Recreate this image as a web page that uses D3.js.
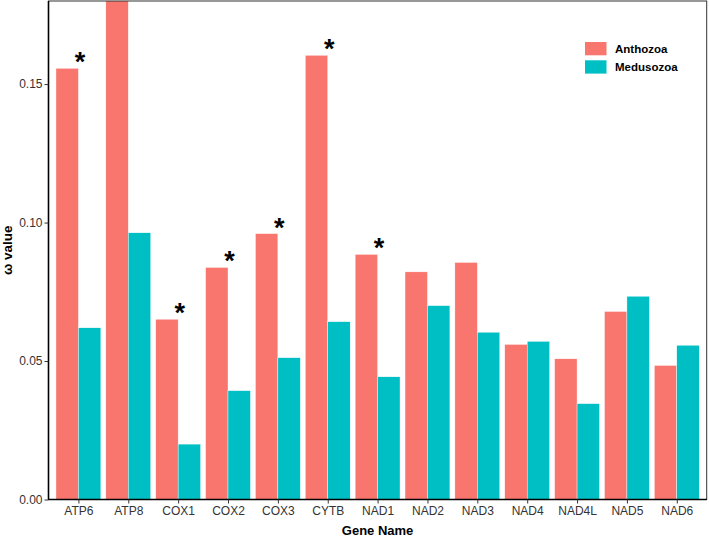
<!DOCTYPE html>
<html>
<head>
<meta charset="utf-8">
<script src="https://cdn.jsdelivr.net/npm/d3@7"></script>
<style>
body{margin:0;background:#fff;}
text{font-family:"Liberation Sans", Arial, sans-serif;}
</style>
</head>
<body>
<svg id="chart" width="709" height="540"></svg>
<script>
const genes = ["ATP6","ATP8","COX1","COX2","COX3","CYTB","NAD1","NAD2","NAD3","NAD4","NAD4L","NAD5","NAD6"];
const groups = ["Anthozoa","Medusozoa"];
const anthozoa  = [0.1557,0.190,0.0651,0.0838,0.0960,0.1604,0.0885,0.0822,0.0856,0.0560,0.0508,0.0679,0.0484];
const medusozoa = [0.0620,0.0963,0.0200,0.0393,0.0512,0.0642,0.0443,0.0700,0.0604,0.0571,0.0346,0.0734,0.0557];
const significant = ["ATP6","COX1","COX2","COX3","CYTB","NAD1"];
const yTicks = [0.00,0.05,0.10,0.15];
const colors = ["#F8766D","#00BFC4"];

const svg = d3.select("#chart");
const mLeft = 48.5, mRight = 706.7, mTop = 1, mBottom = 499.5;

const n = genes.length;
const x = d3.scaleLinear().domain([0.4, n + 0.6]).range([mLeft, mRight]);
const y = d3.scaleLinear().domain([0, 0.18]).range([mBottom, mTop]);
const color = d3.scaleOrdinal().domain(groups).range(colors);

svg.append("defs").append("clipPath").attr("id","clip")
  .append("rect").attr("x",mLeft).attr("y",mTop).attr("width",mRight-mLeft).attr("height",mBottom-mTop);

const data = [];
genes.forEach((g,i)=>{
  data.push({gene:g, i:i, group:"Anthozoa", v:anthozoa[i], off:-1});
  data.push({gene:g, i:i, group:"Medusozoa", v:medusozoa[i], off:0});
});
const unit = x(2) - x(1);
const bw = unit * 0.45;

const plot = svg.append("g").attr("clip-path","url(#clip)");
plot.selectAll("rect.bar").data(data).enter().append("rect")
  .attr("class","bar")
  .attr("x", d => x(d.i+1) + d.off*bw)
  .attr("width", bw)
  .attr("y", d => y(d.v))
  .attr("height", d => y(0) - y(d.v))
  .attr("fill", d => color(d.group))
  .attr("stroke","#fff").attr("stroke-width",0.4);

// asterisks
plot.selectAll("text.star").data(genes.map((g,i)=>({g,i})).filter(d=>significant.includes(d.g)))
  .enter().append("text")
  .attr("x", d => x(d.i+1) + 1.5)
  .attr("y", d => y(anthozoa[d.i]) + 3)
  .attr("text-anchor","middle")
  .attr("font-size",27).attr("font-weight","bold")
  .attr("fill","#000")
  .text("*");

// panel border
svg.append("rect").attr("x",mLeft).attr("y",mTop).attr("width",mRight-mLeft).attr("height",mBottom-mTop)
  .attr("fill","none").attr("stroke","#333").attr("stroke-width",1);
// axis lines
svg.append("line").attr("x1",mLeft).attr("x2",mLeft).attr("y1",mTop).attr("y2",mBottom)
  .attr("stroke","#000").attr("stroke-width",1.6);
svg.append("line").attr("x1",mLeft).attr("x2",mRight).attr("y1",mBottom).attr("y2",mBottom)
  .attr("stroke","#000").attr("stroke-width",1.6);

// y axis
const yAxis = svg.append("g").attr("transform",`translate(${mLeft},0)`)
  .call(d3.axisLeft(y).tickValues(yTicks).tickFormat(d3.format(".2f")).tickSize(4).tickPadding(2));
yAxis.select(".domain").remove();
yAxis.selectAll(".tick line").attr("stroke","#333").attr("stroke-width",1);
yAxis.selectAll(".tick text").attr("fill","#333").attr("font-size",12)
  .style("font-family","'Liberation Sans', Arial, sans-serif");

// x axis
const xAxis = svg.append("g").attr("transform",`translate(0,${mBottom})`)
  .call(d3.axisBottom(x).tickValues(d3.range(1,n+1)).tickFormat(d=>genes[d-1]).tickSize(4).tickPadding(3));
xAxis.select(".domain").remove();
xAxis.selectAll(".tick line").attr("stroke","#333").attr("stroke-width",1);
xAxis.selectAll(".tick text").attr("fill","#333").attr("font-size",12)
  .style("font-family","'Liberation Sans', Arial, sans-serif");

// axis titles
svg.append("text").attr("x",(mLeft+mRight)/2).attr("y",535)
  .attr("text-anchor","middle").attr("font-size",13).attr("font-weight","bold").text("Gene Name");
svg.append("text").attr("transform",`translate(12,${(mTop+mBottom)/2}) rotate(-90)`)
  .attr("text-anchor","middle").attr("font-size",13.5).attr("font-weight","bold").text("ω value");

// legend
const lg = svg.append("g");
groups.forEach((g,k)=>{
  lg.append("rect").attr("x",585).attr("y",42 + k*18.3).attr("width",21.5).attr("height",13.3)
    .attr("fill",color(g));
  lg.append("text").attr("x",615).attr("y",52.5 + k*18.3).attr("font-size",11.5).attr("font-weight","bold")
    .attr("fill","#000").text(g);
});
</script>
</body>
</html>
